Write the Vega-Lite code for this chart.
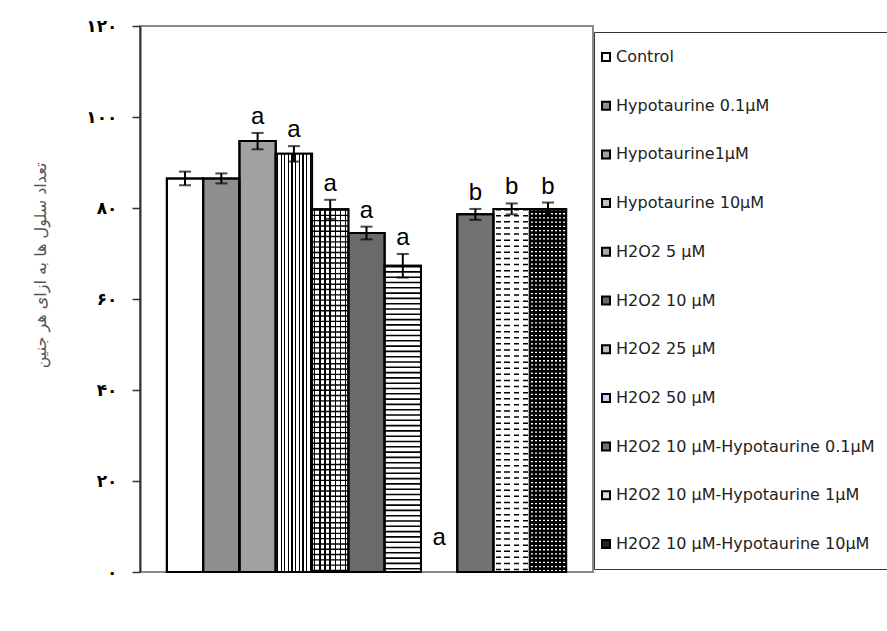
{
  "$schema": "https://vega.github.io/schema/vega-lite/v6.json",
  "width": 453,
  "height": 546,
  "autosize": "none",
  "padding": {"left": 140, "top": 26, "right": 294, "bottom": 59},
  "background": "white",
  "config": {
    "view": {"stroke": "#8a8a8a", "strokeWidth": 2},
    "legend": {"symbolOffset": -13}
  },
  "data": {
    "values": [
      {"group": "Control", "mean": 86.5, "lo": 85.0, "hi": 88.0, "letter": ""},
      {"group": "Hypotaurine  0.1µM", "mean": 86.5, "lo": 85.4, "hi": 87.6, "letter": ""},
      {"group": "Hypotaurine1µM", "mean": 94.7, "lo": 92.9, "hi": 96.5, "letter": "a"},
      {"group": "Hypotaurine  10µM", "mean": 91.9, "lo": 90.2, "hi": 93.6, "letter": "a"},
      {"group": "H2O2 5 µM", "mean": 79.7, "lo": 77.6, "hi": 81.8, "letter": "a"},
      {"group": "H2O2 10 µM", "mean": 74.5, "lo": 73.1, "hi": 75.9, "letter": "a"},
      {"group": "H2O2 25 µM", "mean": 67.3, "lo": 64.7, "hi": 69.9, "letter": "a"},
      {"group": "H2O2 50 µM", "mean": 0, "lo": 0, "hi": 0, "letter": "a"},
      {"group": " H2O2 10 µM-Hypotaurine  0.1µM", "mean": 78.6, "lo": 77.4, "hi": 79.8, "letter": "b"},
      {"group": "H2O2 10 µM-Hypotaurine  1µM", "mean": 79.8, "lo": 78.6, "hi": 81.0, "letter": "b"},
      {"group": "H2O2 10 µM-Hypotaurine  10µM", "mean": 79.8, "lo": 78.4, "hi": 81.2, "letter": "b"}
    ]
  },
  "encoding": {
    "x": {
      "field": "group",
      "type": "nominal",
      "sort": null,
      "scale": {
        "domain": ["Control", "Hypotaurine  0.1µM", "Hypotaurine1µM", "Hypotaurine  10µM", "H2O2 5 µM", "H2O2 10 µM", "H2O2 25 µM", "H2O2 50 µM", " H2O2 10 µM-Hypotaurine  0.1µM", "H2O2 10 µM-Hypotaurine  1µM", "H2O2 10 µM-Hypotaurine  10µM"],
        "paddingInner": 0,
        "paddingOuter": 0.74
      },
      "axis": null
    }
  },
  "layer": [
    {
      "transform": [{"filter": "datum.mean > 0"}],
      "mark": {"type": "bar", "stroke": "black", "strokeWidth": 2},
      "encoding": {
        "y": {
          "field": "mean",
          "type": "quantitative",
          "scale": {"domain": [0, 120]},
          "axis": {
            "values": [0, 20, 40, 60, 80, 100, 120],
            "grid": false,
            "domainColor": "#333333",
            "domainWidth": 2,
            "tickColor": "#333333",
            "tickSize": 8,
            "tickWidth": 1.5,
            "labelPadding": 15,
            "labelFont": "DejaVu Sans",
            "labelFontSize": 17,
            "labelFontWeight": "bold",
            "labelColor": "black",
            "labelExpr": "datum.value == 0 ? '۰' : datum.value == 20 ? '۲۰' : datum.value == 40 ? '۴۰' : datum.value == 60 ? '۶۰' : datum.value == 80 ? '۸۰' : datum.value == 100 ? '۱۰۰' : '۱۲۰'",
            "title": "تعداد سلول ها به ازای هر جنین",
            "titleFont": "DejaVu Sans",
            "titleFontSize": 16,
            "titleFontWeight": "normal",
            "titleColor": "#555555",
            "titleX": -100,
            "titleY": 239,
            "titleAngle": -90,
            "titleAlign": "center",
            "titleBaseline": "middle"
          }
        },
        "color": {
          "field": "group",
          "type": "nominal",
          "scale": {
            "domain": ["Control", "Hypotaurine  0.1µM", "Hypotaurine1µM", "Hypotaurine  10µM", "H2O2 5 µM", "H2O2 10 µM", "H2O2 25 µM", "H2O2 50 µM", " H2O2 10 µM-Hypotaurine  0.1µM", "H2O2 10 µM-Hypotaurine  1µM", "H2O2 10 µM-Hypotaurine  10µM"],
            "range": ["#ffffff", "#8e8e8e", "#a2a2a2", "#c0c0c0", "#a8a8a8", "#6a6a6a", "#bdbdbd", "#ccccff", "#727272", "#dedede", "#222222"]
          },
          "legend": {
            "title": null,
            "orient": "none",
            "legendX": 454,
            "legendY": 6,
            "fillColor": "white",
            "strokeColor": "#333333",
            "padding": 17,
            "rowPadding": 32.7,
            "symbolType": "square",
            "symbolSize": 64,
            "symbolStrokeColor": "black",
            "symbolStrokeWidth": 2,
            "labelFont": "DejaVu Sans",
            "labelFontSize": 16,
            "labelColor": "#222222",
            "labelOffset": 2,
            "labelLimit": 400
          }
        }
      }
    },
    {
      "transform": [{"filter": "datum.group == 'Hypotaurine  10µM'"}],
      "mark": {
        "type": "bar",
        "strokeWidth": 0,
        "fill": {
          "gradient": "linear", "x1": 0, "y1": 0, "x2": 1, "y2": 0,
          "stops": [
            {"offset": 0, "color": "white"},
            {"offset": 0.032, "color": "white"}, {"offset": 0.032, "color": "black"}, {"offset": 0.068, "color": "black"}, {"offset": 0.068, "color": "white"},
            {"offset": 0.132, "color": "white"}, {"offset": 0.132, "color": "black"}, {"offset": 0.168, "color": "black"}, {"offset": 0.168, "color": "white"},
            {"offset": 0.232, "color": "white"}, {"offset": 0.232, "color": "black"}, {"offset": 0.268, "color": "black"}, {"offset": 0.268, "color": "white"},
            {"offset": 0.332, "color": "white"}, {"offset": 0.332, "color": "black"}, {"offset": 0.368, "color": "black"}, {"offset": 0.368, "color": "white"},
            {"offset": 0.432, "color": "white"}, {"offset": 0.432, "color": "black"}, {"offset": 0.468, "color": "black"}, {"offset": 0.468, "color": "white"},
            {"offset": 0.532, "color": "white"}, {"offset": 0.532, "color": "black"}, {"offset": 0.568, "color": "black"}, {"offset": 0.568, "color": "white"},
            {"offset": 0.632, "color": "white"}, {"offset": 0.632, "color": "black"}, {"offset": 0.668, "color": "black"}, {"offset": 0.668, "color": "white"},
            {"offset": 0.732, "color": "white"}, {"offset": 0.732, "color": "black"}, {"offset": 0.768, "color": "black"}, {"offset": 0.768, "color": "white"},
            {"offset": 0.832, "color": "white"}, {"offset": 0.832, "color": "black"}, {"offset": 0.868, "color": "black"}, {"offset": 0.868, "color": "white"},
            {"offset": 0.932, "color": "white"}, {"offset": 0.932, "color": "black"}, {"offset": 0.968, "color": "black"}, {"offset": 0.968, "color": "white"},
            {"offset": 1, "color": "white"}
          ]
        }
      },
      "encoding": {"y": {"field": "mean", "type": "quantitative"}}
    },
    {
      "transform": [{"filter": "datum.group == 'H2O2 5 µM'"}],
      "mark": {
        "type": "bar",
        "strokeWidth": 0,
        "fill": {
          "gradient": "linear", "x1": 0, "y1": 0, "x2": 1, "y2": 0,
          "stops": [
            {"offset": 0, "color": "white"},
            {"offset": 0.0514, "color": "white"}, {"offset": 0.0514, "color": "black"}, {"offset": 0.0914, "color": "black"}, {"offset": 0.0914, "color": "white"},
            {"offset": 0.1943, "color": "white"}, {"offset": 0.1943, "color": "black"}, {"offset": 0.2343, "color": "black"}, {"offset": 0.2343, "color": "white"},
            {"offset": 0.3371, "color": "white"}, {"offset": 0.3371, "color": "black"}, {"offset": 0.3771, "color": "black"}, {"offset": 0.3771, "color": "white"},
            {"offset": 0.48, "color": "white"}, {"offset": 0.48, "color": "black"}, {"offset": 0.52, "color": "black"}, {"offset": 0.52, "color": "white"},
            {"offset": 0.6229, "color": "white"}, {"offset": 0.6229, "color": "black"}, {"offset": 0.6629, "color": "black"}, {"offset": 0.6629, "color": "white"},
            {"offset": 0.7657, "color": "white"}, {"offset": 0.7657, "color": "black"}, {"offset": 0.8057, "color": "black"}, {"offset": 0.8057, "color": "white"},
            {"offset": 0.9086, "color": "white"}, {"offset": 0.9086, "color": "black"}, {"offset": 0.9486, "color": "black"}, {"offset": 0.9486, "color": "white"},
            {"offset": 1, "color": "white"}
          ]
        }
      },
      "encoding": {"y": {"field": "mean", "type": "quantitative"}}
    },
    {
      "transform": [{"filter": "datum.group == 'H2O2 25 µM' || datum.group == 'H2O2 10 µM-Hypotaurine  1µM'"}],
      "mark": {"type": "bar", "strokeWidth": 0, "fill": "white"},
      "encoding": {"y": {"field": "mean", "type": "quantitative"}}
    },
    {
      "transform": [{"filter": "datum.group == 'H2O2 10 µM-Hypotaurine  10µM'"}],
      "mark": {"type": "bar", "strokeWidth": 0, "fill": "black"},
      "encoding": {"y": {"field": "mean", "type": "quantitative"}}
    },
    {
      "transform": [{"filter": "datum.group == 'H2O2 5 µM'"}],
      "mark": {"type": "rule", "color": "black", "strokeWidth": 36, "strokeDash": [1.4, 3.9]},
      "encoding": {"y": {"field": "mean", "type": "quantitative"}, "y2": {"datum": 0}}
    },
    {
      "transform": [{"filter": "datum.group == 'H2O2 25 µM'"}],
      "mark": {"type": "rule", "color": "black", "strokeWidth": 36, "strokeDash": [1.6, 3.7]},
      "encoding": {"y": {"field": "mean", "type": "quantitative"}, "y2": {"datum": 0}}
    },
    {
      "transform": [{"filter": "datum.group == 'H2O2 10 µM-Hypotaurine  1µM'"}],
      "mark": {"type": "rule", "color": "black", "strokeWidth": 36, "strokeDash": [1.5, 4.6]},
      "encoding": {"y": {"field": "mean", "type": "quantitative"}, "y2": {"datum": 0}}
    },
    {
      "transform": [{"filter": "datum.group == 'H2O2 10 µM-Hypotaurine  10µM'"}],
      "mark": {"type": "rule", "color": "white", "strokeWidth": 36, "strokeDash": [1.3, 2.9]},
      "encoding": {"y": {"field": "mean", "type": "quantitative"}, "y2": {"datum": 0}}
    },
    {
      "transform": [{"filter": "datum.group == 'H2O2 10 µM-Hypotaurine  1µM'"}],
      "mark": {
        "type": "bar",
        "strokeWidth": 0,
        "fill": {
          "gradient": "linear", "x1": 0, "y1": 0, "x2": 1, "y2": 0,
          "stops": [
            {"offset": 0, "color": "white"}, {"offset": 0.06, "color": "white"}, {"offset": 0.06, "color": "rgba(255,255,255,0)"},
            {"offset": 0.2, "color": "rgba(255,255,255,0)"}, {"offset": 0.2, "color": "white"}, {"offset": 0.3, "color": "white"}, {"offset": 0.3, "color": "rgba(255,255,255,0)"},
            {"offset": 0.45, "color": "rgba(255,255,255,0)"}, {"offset": 0.45, "color": "white"}, {"offset": 0.55, "color": "white"}, {"offset": 0.55, "color": "rgba(255,255,255,0)"},
            {"offset": 0.7, "color": "rgba(255,255,255,0)"}, {"offset": 0.7, "color": "white"}, {"offset": 0.8, "color": "white"}, {"offset": 0.8, "color": "rgba(255,255,255,0)"},
            {"offset": 0.94, "color": "rgba(255,255,255,0)"}, {"offset": 0.94, "color": "white"}, {"offset": 1, "color": "white"}
          ]
        }
      },
      "encoding": {"y": {"field": "mean", "type": "quantitative"}}
    },
    {
      "transform": [{"filter": "datum.group == 'H2O2 10 µM-Hypotaurine  10µM'"}],
      "mark": {
        "type": "bar",
        "strokeWidth": 0,
        "fill": {
          "gradient": "linear", "x1": 0, "y1": 0, "x2": 1, "y2": 0,
          "stops": [
            {"offset": 0, "color": "black"},
            {"offset": 0.0376, "color": "black"}, {"offset": 0.0376, "color": "rgba(0,0,0,0)"}, {"offset": 0.0736, "color": "rgba(0,0,0,0)"}, {"offset": 0.0736, "color": "black"},
            {"offset": 0.1487, "color": "black"}, {"offset": 0.1487, "color": "rgba(0,0,0,0)"}, {"offset": 0.1847, "color": "rgba(0,0,0,0)"}, {"offset": 0.1847, "color": "black"},
            {"offset": 0.2598, "color": "black"}, {"offset": 0.2598, "color": "rgba(0,0,0,0)"}, {"offset": 0.2958, "color": "rgba(0,0,0,0)"}, {"offset": 0.2958, "color": "black"},
            {"offset": 0.3709, "color": "black"}, {"offset": 0.3709, "color": "rgba(0,0,0,0)"}, {"offset": 0.4069, "color": "rgba(0,0,0,0)"}, {"offset": 0.4069, "color": "black"},
            {"offset": 0.482, "color": "black"}, {"offset": 0.482, "color": "rgba(0,0,0,0)"}, {"offset": 0.518, "color": "rgba(0,0,0,0)"}, {"offset": 0.518, "color": "black"},
            {"offset": 0.5931, "color": "black"}, {"offset": 0.5931, "color": "rgba(0,0,0,0)"}, {"offset": 0.6291, "color": "rgba(0,0,0,0)"}, {"offset": 0.6291, "color": "black"},
            {"offset": 0.7042, "color": "black"}, {"offset": 0.7042, "color": "rgba(0,0,0,0)"}, {"offset": 0.7402, "color": "rgba(0,0,0,0)"}, {"offset": 0.7402, "color": "black"},
            {"offset": 0.8153, "color": "black"}, {"offset": 0.8153, "color": "rgba(0,0,0,0)"}, {"offset": 0.8513, "color": "rgba(0,0,0,0)"}, {"offset": 0.8513, "color": "black"},
            {"offset": 0.9264, "color": "black"}, {"offset": 0.9264, "color": "rgba(0,0,0,0)"}, {"offset": 0.9624, "color": "rgba(0,0,0,0)"}, {"offset": 0.9624, "color": "black"},
            {"offset": 1, "color": "black"}
          ]
        }
      },
      "encoding": {"y": {"field": "mean", "type": "quantitative"}}
    },
    {
      "transform": [{"filter": "datum.mean > 0"}],
      "mark": {"type": "bar", "fill": "transparent", "stroke": "black", "strokeWidth": 2},
      "encoding": {"y": {"field": "mean", "type": "quantitative"}}
    },
    {
      "transform": [{"filter": "datum.hi > datum.lo"}],
      "mark": {"type": "rule", "color": "black", "strokeWidth": 2},
      "encoding": {
        "y": {"field": "lo", "type": "quantitative"},
        "y2": {"field": "hi"}
      }
    },
    {
      "transform": [{"filter": "datum.hi > datum.lo"}],
      "mark": {"type": "tick", "color": "black", "thickness": 2, "size": 12},
      "encoding": {"y": {"field": "lo", "type": "quantitative"}}
    },
    {
      "transform": [{"filter": "datum.hi > datum.lo"}],
      "mark": {"type": "tick", "color": "black", "thickness": 2, "size": 12},
      "encoding": {"y": {"field": "hi", "type": "quantitative"}}
    },
    {
      "transform": [{"filter": "datum.mean > 0"}],
      "mark": {"type": "text", "font": "Liberation Sans", "fontSize": 24, "baseline": "alphabetic", "dy": -9, "color": "black"},
      "encoding": {
        "y": {"field": "hi", "type": "quantitative"},
        "text": {"field": "letter"}
      }
    },
    {
      "transform": [{"filter": "datum.mean == 0"}],
      "mark": {"type": "text", "font": "Liberation Sans", "fontSize": 24, "baseline": "alphabetic", "dy": -27, "color": "black"},
      "encoding": {
        "y": {"field": "hi", "type": "quantitative"},
        "text": {"field": "letter"}
      }
    }
  ]
}
